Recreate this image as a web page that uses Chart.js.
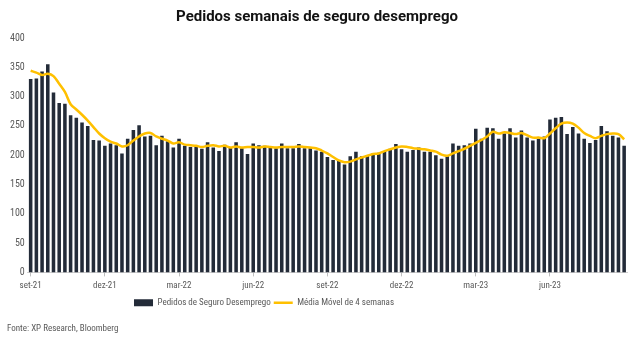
<!DOCTYPE html>
<html>
<head>
<meta charset="utf-8">
<script src="https://cdn.jsdelivr.net/npm/chart.js@4.4.1/dist/chart.umd.min.js"></script>
<style>
  html, body { margin: 0; padding: 0; background: #ffffff; }
  #wrap { width: 638px; height: 339px; position: relative; }
</style>
</head>
<body>
<div id="wrap"><canvas id="claimsChart"></canvas></div>
<script>
// -------------------------------------------------------
// DATA, thousands of claims
// -------------------------------------------------------
const tickLabels = ['set-21', 'dez-21', 'mar-22', 'jun-22', 'set-22', 'dez-22', 'mar-23', 'jun-23'];
const weeksPerTick = 13;

// weekly initial claims, sep-2021 .. aug-2023
const claims = [
    330, 331, 343, 355, 307, 289, 288, 268, 264, 256, 250, 226, 225,
    216, 220, 217, 203, 228, 243, 251, 232, 233, 217, 233, 224, 213,
    228, 216, 214, 214, 211, 222, 213, 207, 218, 213, 222, 212, 202,
    220, 217, 216, 213, 212, 220, 212, 212, 219, 212, 212, 208, 206,
    197, 192, 191, 184, 198, 206, 198, 200, 203, 204, 207, 211, 219,
    210, 206, 209, 213, 206, 206, 200, 194, 198, 220, 216, 217, 220,
    245, 228, 247, 246, 228, 237, 246, 230, 242, 230, 225, 228, 232,
    261, 264, 265, 236, 248, 237, 228, 221, 226, 250, 241, 233, 230,
    216
];

// 4-week moving average line
const movingAvg = [
    344, 341, 337, 339, 335, 322, 308, 287, 278, 269, 259, 248, 237,
    229, 223, 220, 215, 217, 225, 232, 237, 238, 232, 228, 225, 220,
    222, 218, 217, 216, 214, 216, 217, 215, 216, 213, 215, 213, 214,
    214, 213, 215, 214, 213, 214, 214, 214, 215, 214, 213, 212, 208,
    203, 197, 191, 188, 189, 193, 196, 199, 202, 203, 207, 210, 213,
    215, 214, 212, 211, 210, 208, 206, 201, 199, 203, 207, 211, 216,
    221, 226, 232, 240, 237, 239, 238, 236, 238, 234, 230, 230, 229,
    237, 246, 254, 256, 254, 247, 238, 233, 229, 233, 236, 237, 236,
    227
];

// one label per week, only every 13th week gets a month label
const weekLabels = claims.map((_, i) => (i % weeksPerTick === 0 ? (tickLabels[i / weeksPerTick] || '') : ''));

const FONT = "'Liberation Sans Narrow', 'Roboto Condensed', 'DejaVu Sans Condensed', sans-serif";
const TEXT_GREY = '#595959';

// small nudge so the legend sits left of centre as in the original
const legendShift = {
    id: 'legendShift',
    afterLayout(chart) {
        const lg = chart.legend;
        if (!lg) return;
        lg.left -= 53;
        lg.right -= 53;
    }
};

new Chart(document.getElementById('claimsChart'), {
    type: 'bar',
    data: {
        labels: weekLabels,
        datasets: [
            {
                type: 'line',
                label: 'Média Móvel de 4 semanas',
                data: movingAvg,
                borderColor: '#FFC000',
                backgroundColor: '#FFC000',
                borderWidth: 2.5,
                pointRadius: 0,
                tension: 0.35,
                order: 0
            },
            {
                type: 'bar',
                label: 'Pedidos de Seguro Desemprego',
                data: claims,
                backgroundColor: '#232b38',
                barPercentage: 0.62,
                categoryPercentage: 1.0,
                order: 1
            }
        ]
    },
    options: {
        responsive: true,
        maintainAspectRatio: false,
        animation: false,
        layout: { padding: { left: 7, right: 11, bottom: 3 } },
        plugins: {
            title: {
                display: true,
                text: 'Pedidos semanais de seguro desemprego',
                color: '#111111',
                font: { family: 'Roboto', size: 15, weight: 'bold' },
                padding: { top: 8, bottom: 12 }
            },
            subtitle: {
                display: true,
                position: 'bottom',
                align: 'start',
                text: 'Fonte: XP Research, Bloomberg',
                color: TEXT_GREY,
                font: { family: FONT, size: 9 },
                padding: { top: 6, bottom: 2 }
            },
            legend: {
                position: 'bottom',
                reverse: true,
                labels: {
                    color: TEXT_GREY,
                    font: { family: FONT, size: 9 },
                    usePointStyle: true,
                    pointStyleWidth: 19,
                    boxHeight: 7,
                    padding: 3,
                    generateLabels(chart) {
                        return chart.data.datasets.map((ds, i) => ({
                            text: ds.label,
                            datasetIndex: i,
                            fillStyle: ds.backgroundColor,
                            strokeStyle: ds.type === 'line' ? ds.borderColor : ds.backgroundColor,
                            lineWidth: ds.type === 'line' ? 2.5 : 0,
                            pointStyle: ds.type === 'line' ? 'line' : 'rect',
                            fontColor: TEXT_GREY,
                            hidden: false
                        }));
                    }
                }
            },
            tooltip: { enabled: false }
        },
        scales: {
            x: {
                offset: true,
                grid: {
                    offset: false,
                    drawOnChartArea: false,
                    drawTicks: true,
                    tickLength: 4,
                    color: ctx => (ctx.tick && ctx.tick.label ? '#bfbfbf' : 'rgba(0,0,0,0)')
                },
                border: { display: true, color: '#d0d0d0' },
                ticks: {
                    autoSkip: false,
                    maxRotation: 0,
                    padding: 4,
                    color: TEXT_GREY,
                    font: { family: FONT, size: 9 }
                }
            },
            y: {
                min: 0,
                max: 400,
                grid: { display: false, drawTicks: false },
                border: { display: false },
                ticks: {
                    stepSize: 50,
                    padding: 3,
                    color: TEXT_GREY,
                    font: { family: FONT, size: 10 }
                }
            }
        }
    },
    plugins: [legendShift]
});
</script>
</body>
</html>
